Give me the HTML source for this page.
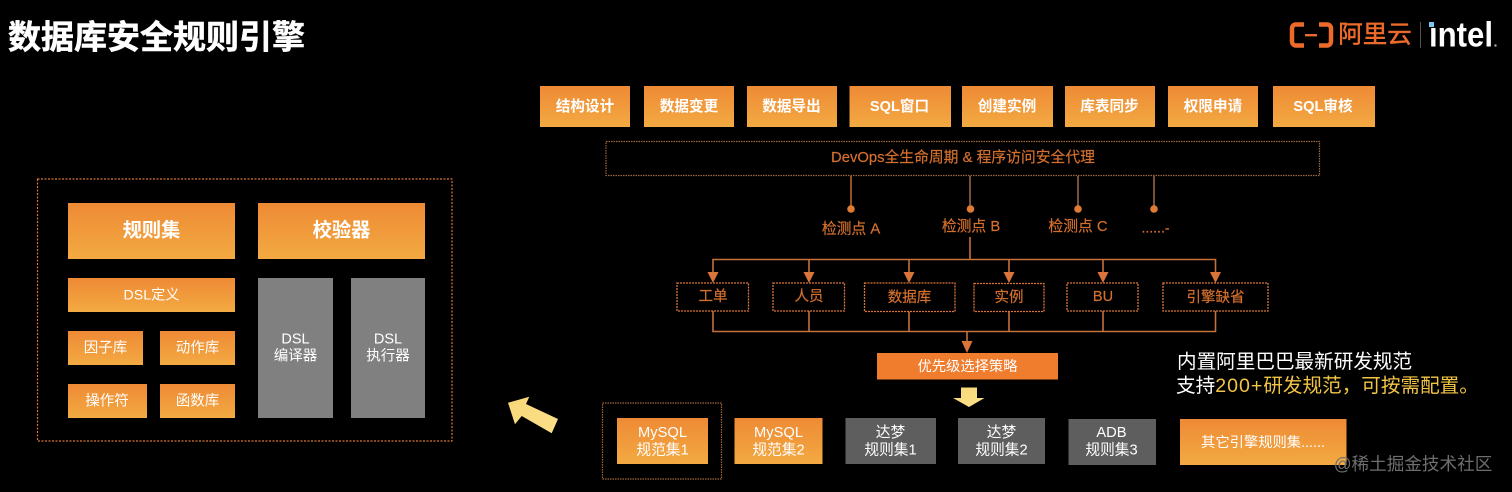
<!DOCTYPE html>
<html lang="zh">
<head>
<meta charset="utf-8">
<style>
html,body{margin:0;padding:0;background:#000;width:1512px;height:492px;overflow:hidden}
svg{display:block;font-family:"Liberation Sans","Noto Sans CJK SC",sans-serif;filter:blur(.35px)}
text{dominant-baseline:central;text-anchor:middle;transform:translateY(1px)}
.w{fill:#fff}
.o{fill:#d4702f;stroke:#d4702f;stroke-width:.2}
.b{font-weight:bold}
</style>
</head>
<body>
<svg width="1512" height="492" viewBox="0 0 1512 492" xmlns="http://www.w3.org/2000/svg">
<defs>
<linearGradient id="g" x1="0" y1="0" x2="0" y2="1"><stop offset="0" stop-color="#ee8a35"/><stop offset="1" stop-color="#f3aa42"/></linearGradient>
<linearGradient id="y" x1="0" y1="0" x2="1" y2="1"><stop offset="0" stop-color="#f8d777"/><stop offset="1" stop-color="#fbe08a"/></linearGradient>
</defs>
<rect width="1512" height="492" fill="#000"/>

<!-- title -->
<text x="156.500" y="36" class="w b" font-size="33" stroke="#fff" stroke-width=".5">数据库安全规则引擎</text>

<!-- logo -->
<path d="M1304 24.500h-8.500a4 4 0 0 0-3.500 4v13a4 4 0 0 0 3.500 4h8.500M1319 24.500h8.500a4 4 0 0 1 3.500 4v13a4 4 0 0 1-3.500 4h-8.500" fill="none" stroke="#ec6b2b" stroke-width="4.500"/>
<rect x="1305" y="34" width="12" height="2.400" fill="#ec6b2b"/>
<text x="1375" y="34" font-size="24.500" fill="#ec6b2b" stroke="#ec6b2b" stroke-width=".5">阿里云</text>
<rect x="1420" y="22" width="1" height="26" fill="#555"/>
<rect x="1429" y="22" width="5" height="5" fill="#7cc5ee"/>
<text x="1461" y="34" font-size="35" class="w b" textLength="64" lengthAdjust="spacingAndGlyphs">ıntel</text>
<circle cx="1495.500" cy="45.500" r="1.200" fill="#aaa"/>

<!-- left panel -->
<rect x="37.500" y="179" width="414.500" height="262" fill="none" stroke="#d9743a" stroke-width="1.200" stroke-dasharray="2 1.500"/>
<rect x="68" y="203" width="167" height="56" fill="url(#g)"/>
<text x="151.500" y="230" class="w b" font-size="19.300">规则集</text>
<rect x="258" y="203" width="167" height="56" fill="url(#g)"/>
<text x="341.500" y="230" class="w b" font-size="19.300">校验器</text>
<rect x="68" y="278" width="167" height="34" fill="url(#g)"/>
<text x="151.500" y="294.500" class="w" font-size="14.200">DSL定义</text>
<rect x="68" y="331" width="75" height="34" fill="url(#g)"/>
<text x="105.500" y="347.500" class="w" font-size="14.500">因子库</text>
<rect x="160" y="331" width="75" height="34" fill="url(#g)"/>
<text x="197.500" y="347.500" class="w" font-size="14.500">动作库</text>
<rect x="68" y="384" width="79" height="34" fill="url(#g)"/>
<text x="107" y="400.500" class="w" font-size="14.500">操作符</text>
<rect x="160" y="384" width="75" height="34" fill="url(#g)"/>
<text x="197.500" y="400.500" class="w" font-size="14.500">函数库</text>
<rect x="258" y="278" width="75" height="140" fill="#808080"/>
<text x="295.500" y="338.500" class="w" font-size="14.500">DSL</text>
<text x="295.500" y="355.500" class="w" font-size="14.500">编译器</text>
<rect x="351" y="278" width="74" height="140" fill="#808080"/>
<text x="388" y="338.500" class="w" font-size="14.500">DSL</text>
<text x="388" y="355.500" class="w" font-size="14.500">执行器</text>

<!-- top buttons -->
<rect x="540" y="86" width="90" height="41" fill="url(#g)"/><text x="585" y="106" class="w b" font-size="14.600">结构设计</text>
<rect x="644" y="86" width="90" height="41" fill="url(#g)"/><text x="689" y="106" class="w b" font-size="14.600">数据变更</text>
<rect x="747" y="86" width="90" height="41" fill="url(#g)"/><text x="791.500" y="106" class="w b" font-size="14.600">数据导出</text>
<rect x="849.500" y="86" width="101.500" height="41" fill="url(#g)"/><text x="899.500" y="106" class="w b" font-size="14.600">SQL窗口</text>
<rect x="962" y="86" width="91" height="41" fill="url(#g)"/><text x="1007" y="106" class="w b" font-size="14.600">创建实例</text>
<rect x="1065" y="86" width="90" height="41" fill="url(#g)"/><text x="1109.500" y="106" class="w b" font-size="14.600">库表同步</text>
<rect x="1168" y="86" width="90" height="41" fill="url(#g)"/><text x="1213" y="106" class="w b" font-size="14.600">权限申请</text>
<rect x="1273" y="86" width="102" height="41" fill="url(#g)"/><text x="1323" y="106" class="w b" font-size="14.600">SQL审核</text>

<!-- devops -->
<rect x="606" y="141.500" width="713.500" height="34" fill="none" stroke="#a0683a" stroke-width="1.200" stroke-dasharray="1.500 1"/>
<text x="963" y="157" class="o" font-size="14.800" xml:space="preserve">DevOps全生命周期 &amp; 程序访问安全代理</text>

<!-- check points -->
<g stroke-width="1.500">
<line x1="851" y1="176" x2="851" y2="209" stroke="#c46c2f"/>
<line x1="970" y1="176" x2="970" y2="209" stroke="#a06a4a"/>
<line x1="1078" y1="176" x2="1078" y2="209" stroke="#a06a4a"/>
<line x1="1154" y1="176" x2="1154" y2="209" stroke="#a06a4a"/>
</g>
<g fill="#e07b35">
<circle cx="851" cy="209" r="3.800"/><circle cx="970.500" cy="209" r="3.800"/><circle cx="1078" cy="209" r="3.800"/><circle cx="1154" cy="209" r="3.800"/>
</g>
<text x="851" y="228.500" class="o" font-size="14.800">检测点 A</text>
<text x="971" y="226" class="o" font-size="14.800">检测点 B</text>
<text x="1078" y="226" class="o" font-size="14.800">检测点 C</text>
<text x="1155.500" y="226.500" class="o" font-size="14">......-</text>

<!-- tree -->
<g stroke="#c4713c" stroke-width="1.600" fill="none">
<path d="M970 237V259.500"/>
<path d="M713 274V259.500H1215.500V274"/>
<path d="M809 259.500V274M909 259.500V274M1009 259.500V274M1103 259.500V274"/>
<path d="M713 311V331.500H1215.500V311"/>
<path d="M809 311V331.500M909 311V331.500M1009 311V331.500M1103 311V331.500"/>
<path d="M967 331.500V343"/>
</g>
<g fill="#d9743a">
<path d="M707.500 272h11l-5.500 11z"/>
<path d="M803.500 272h11l-5.500 11z"/>
<path d="M903.500 272h11l-5.500 11z"/>
<path d="M1003.500 272h11l-5.500 11z"/>
<path d="M1097.500 272h11l-5.500 11z"/>
<path d="M1210 272h11l-5.500 11z"/>
<path d="M961.500 341h11l-5.500 12z"/>
</g>
<g fill="#000" stroke="#d9743a" stroke-width="1.300" stroke-dasharray="2 1">
<rect x="677" y="283" width="71.500" height="28"/>
<rect x="773" y="283" width="71.500" height="28"/>
<rect x="864.500" y="283" width="90.500" height="28.500"/>
<rect x="974" y="283.500" width="70" height="28"/>
<rect x="1067" y="283" width="71" height="28"/>
<rect x="1163" y="283" width="105" height="28"/>
</g>
<text x="713" y="296" class="o" font-size="14.500">工单</text>
<text x="809" y="296" class="o" font-size="14.500">人员</text>
<text x="909.500" y="297" class="o" font-size="14.500">数据库</text>
<text x="1009" y="297" class="o" font-size="14.500">实例</text>
<text x="1103" y="296" class="o" font-size="14.500">BU</text>
<text x="1215.500" y="297" class="o" font-size="14.500">引擎缺省</text>

<!-- strategy -->
<rect x="877" y="353" width="181" height="26.500" fill="#f07c2e"/>
<text x="967.500" y="366" class="w" font-size="14.300">优先级选择策略</text>

<!-- arrows -->
<path d="M961 387.500h16V398h7.500l-15.500 9-16-9h8z" fill="url(#y)"/>
<path d="M508 402.700L529.300 396.700L526 404L558 419L551.700 433.300L521.700 416L515 424.300z" fill="url(#y)"/>

<!-- rule sets -->
<rect x="602.500" y="403" width="119" height="76" fill="none" stroke="#a0683a" stroke-width="1.200" stroke-dasharray="1.500 1"/>
<rect x="617" y="418" width="91" height="46" fill="url(#g)"/>
<text x="662.500" y="432" class="w" font-size="14.700">MySQL</text><text x="662.500" y="449.500" class="w" font-size="14.700">规范集1</text>
<rect x="734.500" y="418" width="88" height="46" fill="url(#g)"/>
<text x="778.500" y="432" class="w" font-size="14.700">MySQL</text><text x="778.500" y="449.500" class="w" font-size="14.700">规范集2</text>
<rect x="845.500" y="418" width="90.500" height="46" fill="#5e5e5e"/>
<text x="890.500" y="432" class="w" font-size="14.700">达梦</text><text x="890.500" y="449.500" class="w" font-size="14.700">规则集1</text>
<rect x="958" y="418" width="87" height="46" fill="#5e5e5e"/>
<text x="1001.500" y="432" class="w" font-size="14.700">达梦</text><text x="1001.500" y="449.500" class="w" font-size="14.700">规则集2</text>
<rect x="1068.500" y="419" width="87.500" height="46" fill="#5e5e5e"/>
<text x="1111.500" y="432" class="w" font-size="14.700">ADB</text><text x="1111.500" y="449.500" class="w" font-size="14.700">规则集3</text>
<rect x="1180" y="419" width="166.500" height="46" fill="url(#g)"/>
<text x="1263" y="442" class="w" font-size="14.300">其它引擎规则集......</text>

<!-- note -->
<text x="1177" y="361" class="w" font-size="19.600" style="text-anchor:start">内置阿里巴巴最新研发规范</text>
<text x="1176" y="385" class="w" font-size="19.600" style="text-anchor:start">支持<tspan fill="#f3c544" letter-spacing="1">200+</tspan><tspan fill="#f3c544">研发规范，可按需配置。</tspan></text>

<!-- watermark -->
<text x="1413" y="463" font-size="17.600" fill="#6e6e6e">@稀土掘金技术社区</text>
</svg>
</body>
</html>
